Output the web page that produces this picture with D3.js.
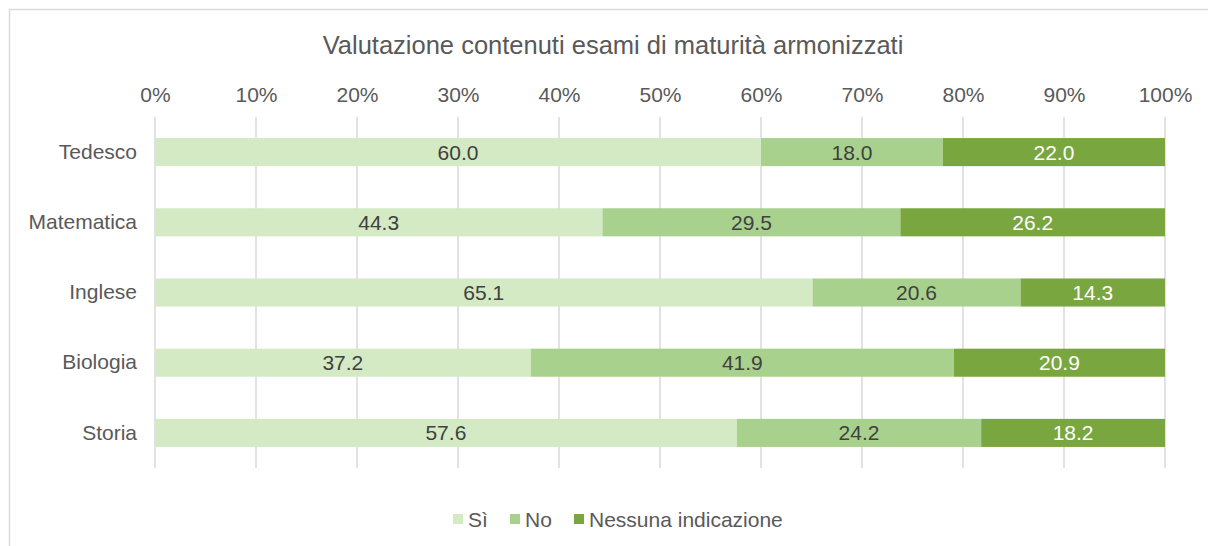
<!DOCTYPE html>
<html>
<head>
<meta charset="utf-8">
<script src="https://cdn.jsdelivr.net/npm/d3@7"></script>
<style>
  body { margin: 0; background: #fff; }
  svg text { font-family: "Liberation Sans", Arial, sans-serif; }
</style>
</head>
<body>
<svg id="chart" width="1208" height="546"></svg>
<script>
// Subjects (top to bottom) and the share of answers per option
const categories = ["Tedesco", "Matematica", "Inglese", "Biologia", "Storia"];
const seriesNames = ["Sì", "No", "Nessuna indicazione"];
const si = [60.0, 44.3, 65.1, 37.2, 57.6];
const no = [18.0, 29.5, 20.6, 41.9, 24.2];
const nessuna = [22.0, 26.2, 14.3, 20.9, 18.2];
const tickValues = [0, 10, 20, 30, 40, 50, 60, 70, 80, 90, 100];

const colors = ["#d4eac4", "#a9d18e", "#7aa63f"];
const labelColors = ["#404040", "#404040", "#ffffff"];
const fontSize = 21;

const svg = d3.select("#chart");

// outer chart frame
svg.append("rect")
  .attr("x", 9.5).attr("y", 9.5)
  .attr("width", 1210).attr("height", 560)
  .attr("fill", "#fff").attr("stroke", "#d9d9d9").attr("stroke-width", 1.5);

const x = d3.scaleLinear().domain([0, 100]).range([155, 1165]);
const y = d3.scaleBand().domain(categories).range([117, 468]).paddingInner(0.6).paddingOuter(0.3);

// title
svg.append("text")
  .attr("x", 613).attr("y", 54)
  .attr("text-anchor", "middle")
  .attr("font-size", 25.5)
  .attr("fill", "#595959")
  .text("Valutazione contenuti esami di maturità armonizzati");

// vertical gridlines
svg.append("g").selectAll("line")
  .data(tickValues).join("line")
  .attr("x1", d => x(d)).attr("x2", d => x(d))
  .attr("y1", 117).attr("y2", 468)
  .attr("stroke", "#d9d9d9").attr("stroke-width", 1.5);

// top percentage axis
const xAxis = d3.axisTop(x).tickValues(tickValues).tickFormat(d => d + "%").tickSize(0).tickPadding(0);
const gx = svg.append("g").attr("transform", "translate(0,102)").call(xAxis);
gx.select(".domain").remove();
gx.selectAll("text")
  .attr("font-size", fontSize).attr("fill", "#595959")
  .attr("font-family", "Liberation Sans, Arial, sans-serif");

// category axis
const yAxis = d3.axisLeft(y).tickSize(0).tickPadding(18);
const gy = svg.append("g").attr("transform", "translate(155,0)").call(yAxis);
gy.select(".domain").remove();
gy.selectAll("text")
  .attr("font-size", fontSize).attr("fill", "#595959")
  .attr("font-family", "Liberation Sans, Arial, sans-serif");

// stacked bars
const rows = categories.map((c, i) => ({ cat: c, "Sì": si[i], "No": no[i], "Nessuna indicazione": nessuna[i] }));
const stacked = d3.stack().keys(seriesNames)(rows);

stacked.forEach((layer, k) => {
  const g = svg.append("g");
  g.selectAll("rect")
    .data(layer).join("rect")
    .attr("x", d => x(d[0]))
    .attr("width", d => x(d[1]) - x(d[0]))
    .attr("y", d => y(d.data.cat))
    .attr("height", y.bandwidth())
    .attr("fill", colors[k]);
  g.selectAll("text")
    .data(layer).join("text")
    .attr("x", d => (x(d[0]) + x(d[1])) / 2)
    .attr("y", d => y(d.data.cat) + y.bandwidth() / 2)
    .attr("dy", "0.36em")
    .attr("text-anchor", "middle")
    .attr("font-size", fontSize)
    .attr("fill", labelColors[k])
    .text(d => (d[1] - d[0]).toFixed(1));
});

// legend
const legendItems = [
  { name: seriesNames[0], x: 453 },
  { name: seriesNames[1], x: 510 },
  { name: seriesNames[2], x: 574 }
];
const lg = svg.append("g");
legendItems.forEach((it, k) => {
  lg.append("rect")
    .attr("x", it.x).attr("y", 514)
    .attr("width", 10).attr("height", 10)
    .attr("fill", colors[k]);
  lg.append("text")
    .attr("x", it.x + 15).attr("y", 527)
    .attr("font-size", fontSize).attr("fill", "#595959")
    .text(it.name);
});
</script>
</body>
</html>
